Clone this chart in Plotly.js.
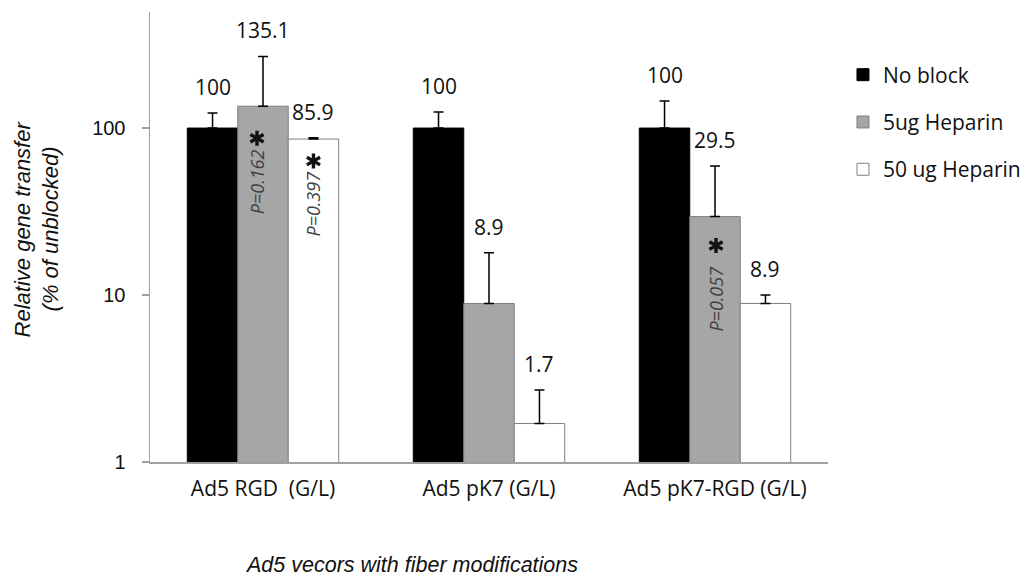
<!DOCTYPE html>
<html>
<head>
<meta charset="utf-8">
<script src="https://cdn.plot.ly/plotly-3.0.1.min.js"></script>
<style>html,body{margin:0;padding:0;background:#fff;}#chart{width:1022px;height:587px;}</style>
</head>
<body>
<div id="chart"></div>
<script>
// ---- data ----
const categories = ['Ad5 RGD\u00a0 (G/L)', 'Ad5 pK7 (G/L)', 'Ad5 pK7-RGD (G/L)'];
const seriesNames = ['No block', '5ug Heparin', '50 ug Heparin'];
const noBlock = [100, 100, 100];
const noBlockErr = [23, 24.7, 45];
const hep5 = [135.1, 8.9, 29.5];
const hep5Err = [133.4, 9.0, 29.7];
const hep50 = [85.9, 1.7, 8.9];
const hep50Err = [1.5, 1.0, 1.1];
const yTickVals = [1, 10, 100];
const yTickText = ['1', '10', '100'];
const yTitleLines = ['Relative gene transfer', '(% of unblocked)'];
const xTitle = 'Ad5 vecors with fiber modifications';
const pText = ['P=0.162', 'P=0.397', 'P=0.057'];
const pSeries = [1, 2, 1];
const pCat = [0, 0, 2];

// ---- style ----
const values = [noBlock, hep5, hep50];
const errs = [noBlockErr, hep5Err, hep50Err];
const fills = ['#000000', '#a6a6a6', '#ffffff'];
const borders = ['#000000', '#808080', '#808080'];
const bargap = 0.33;
const barW = (1 - bargap) / 3;
const pStarDrop = [32, 22, 29];
const pTextDrop = [76, 64, 82];
const pXShift = [-6, 0, 1];
const axisGray = '#a0a0a0';
const yTitleX = [-0.1888, -0.1475];

const traces = values.map((vals, s) => ({
  type: 'bar',
  name: seriesNames[s],
  x: categories,
  y: vals,
  legendgroup: 'g' + s,
  marker: {color: fills[s], line: {color: borders[s], width: 1}},
  error_y: {type: 'data', symmetric: false, array: errs[s], arrayminus: vals.map(() => 0),
            color: '#000', thickness: 1.5, width: 5},
  hoverinfo: 'none'
}));

const annotations = [];
const shapes = [];
values.forEach((vals, s) => {
  vals.forEach((v, c) => {
    annotations.push({
      x: c + (s - 1) * barW, y: Math.log10(v + errs[s][c]), xref: 'x', yref: 'y',
      text: String(v), showarrow: false, yanchor: 'middle', yshift: 26,
      font: {family: 'Open Sans', size: 21, color: '#111'}
    });
  });
});
function starPath(dx, dy) {
  const a = 7.5, hx = 6.6, hy = 3.8;
  return `M${dx},${dy - a}L${dx},${dy + a}` +
         `M${dx - hx},${dy - hy}L${dx + hx},${dy + hy}` +
         `M${dx - hx},${dy + hy}L${dx + hx},${dy - hy}`;
}
pText.forEach((t, i) => {
  const s = pSeries[i], c = pCat[i];
  const v = values[s][c];
  shapes.push({
    type: 'path', xref: 'x', yref: 'y', xsizemode: 'pixel', ysizemode: 'pixel',
    xanchor: c + (s - 1) * barW, yanchor: v,
    path: starPath(pXShift[i], -pStarDrop[i]),
    line: {color: '#111', width: 3.4}
  });
  annotations.push({
    x: c + (s - 1) * barW, y: Math.log10(v), xref: 'x', yref: 'y', text: t, showarrow: false,
    textangle: -90, yanchor: 'middle', yshift: -pTextDrop[i], xshift: pXShift[i],
    font: {family: 'Open Sans', size: 18, color: '#404040', style: 'italic'}
  });
});
yTitleLines.forEach((t, i) => {
  annotations.push({
    xref: 'paper', yref: 'paper', x: yTitleX[i], y: 0.519, xanchor: 'center', yanchor: 'middle',
    textangle: -90, showarrow: false, text: t,
    font: {family: 'Liberation Sans', size: 22, color: '#111', style: 'italic'}
  });
});
annotations.push({
  xref: 'paper', yref: 'paper', x: 0.3864, y: -0.2296, xanchor: 'center', yanchor: 'middle',
  showarrow: false, text: xTitle,
  font: {family: 'Liberation Sans', size: 21.5, color: '#111', style: 'italic'}
});

const layout = {
  width: 1022, height: 587,
  margin: {l: 150, r: 194, t: 12, b: 125, pad: 0, autoexpand: false},
  paper_bgcolor: '#fff', plot_bgcolor: '#fff',
  barmode: 'group', bargap: bargap, bargroupgap: 0,
  showlegend: true,
  legend: {x: 1.0221, xanchor: 'left', y: 0.9055, yanchor: 'top', traceorder: 'grouped',
           tracegroupgap: 17, font: {family: 'Open Sans', size: 21, color: '#111'},
           bgcolor: 'rgba(0,0,0,0)'},
  xaxis: {type: 'category', range: [-0.5, 2.5], showline: true, linecolor: axisGray, linewidth: 1.5,
          ticks: '', showgrid: false, zeroline: false, ticklabelstandoff: 7, automargin: false,
          tickfont: {family: 'Open Sans', size: 21, color: '#111'}},
  yaxis: {type: 'log', range: [0, 2.695], tickvals: yTickVals, ticktext: yTickText,
          ticks: 'outside', ticklen: 7, tickwidth: 1.5, tickcolor: axisGray, automargin: false,
          showline: true, linecolor: axisGray, linewidth: 1.5, showgrid: false, zeroline: false,
          ticklabelstandoff: 12, tickfont: {family: 'Liberation Sans', size: 20, color: '#111'}},
  annotations: annotations,
  shapes: shapes
};

Plotly.newPlot('chart', traces, layout, {displayModeBar: false, staticPlot: true});
</script>
</body>
</html>
